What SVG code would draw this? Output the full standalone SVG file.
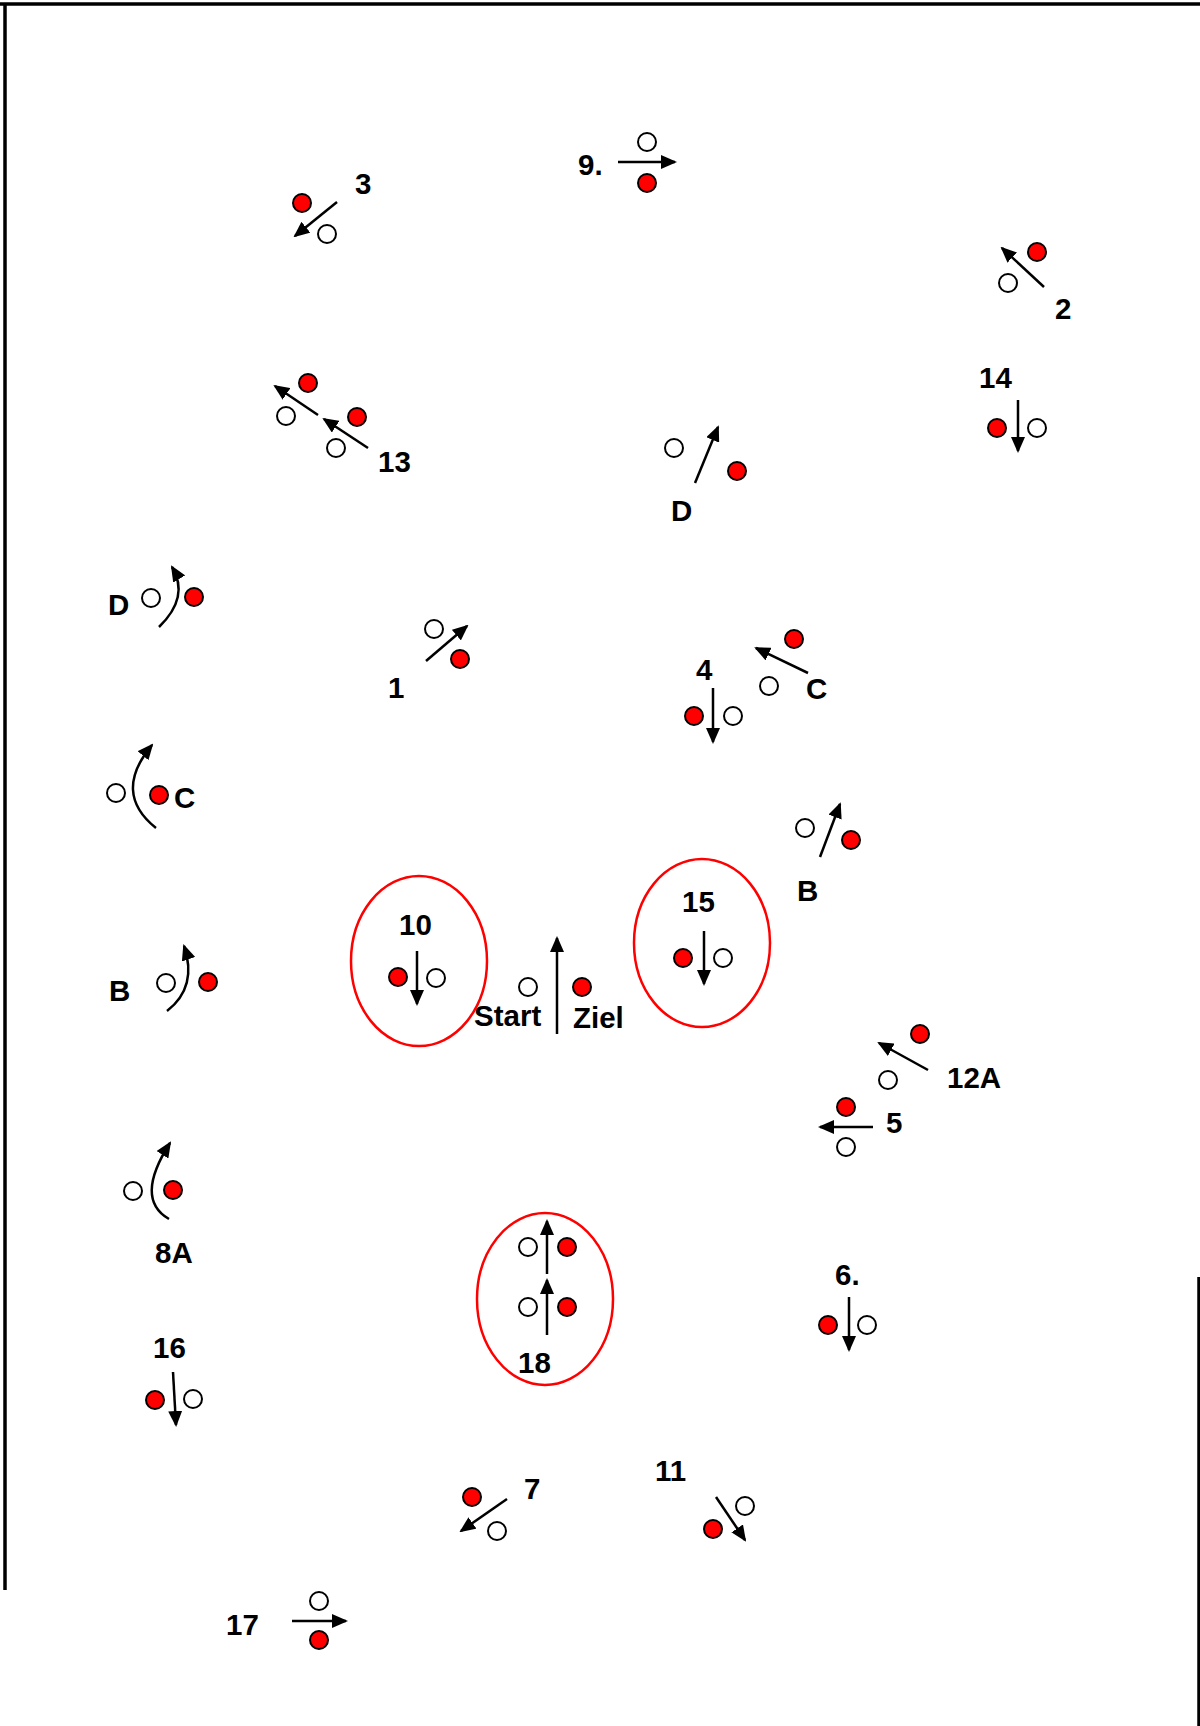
<svg xmlns="http://www.w3.org/2000/svg" width="1200" height="1726" viewBox="0 0 1200 1726">
<defs>
<marker id="ah" markerUnits="userSpaceOnUse" markerWidth="16" markerHeight="14" refX="14" refY="7" orient="auto"><path d="M0,0 L16,7 L0,14 z" fill="#000"/></marker>
<style>
.w{fill:#fff;stroke:#000;stroke-width:2}
.r{fill:#ff0000;stroke:#000;stroke-width:2}
.a{fill:none;stroke:#000;stroke-width:2.5;marker-end:url(#ah)}
.t{font-family:"Liberation Sans",Arial,sans-serif;font-weight:bold;font-size:29.5px;fill:#000}
.e{fill:none;stroke:#ff0000;stroke-width:2.5}
.b{stroke:#000;stroke-width:3.5;fill:none}
</style>
</defs>
<rect width="1200" height="1726" fill="#fff"/>
<g id="frame">
<line class="b" x1="0" y1="4" x2="1200" y2="4"/>
<line class="b" x1="5" y1="3" x2="5" y2="1590"/>
<line class="b" x1="1199" y1="1277" x2="1199" y2="1726"/>
</g>
<g id="connectors">
<line class="a" x1="337" y1="202" x2="295" y2="236"/>
<line class="a" x1="618" y1="162" x2="675" y2="162"/>
<line class="a" x1="1044" y1="287" x2="1002" y2="248"/>
<line class="a" x1="1018" y1="400" x2="1018" y2="451"/>
<line class="a" x1="318" y1="415" x2="275" y2="386"/>
<line class="a" x1="368" y1="448" x2="324" y2="419"/>
<line class="a" x1="695" y1="483" x2="718" y2="427"/>
<path class="a" d="M159,627 Q190,597 172,567"/>
<path class="a" d="M156,828 Q112,793 152,745"/>
<line class="a" x1="426" y1="661" x2="467" y2="626"/>
<line class="a" x1="713" y1="688" x2="713" y2="742"/>
<line class="a" x1="808" y1="673" x2="756" y2="648"/>
<line class="a" x1="820" y1="857" x2="840" y2="804"/>
<line class="a" x1="417" y1="951" x2="417" y2="1004"/>
<line class="a" x1="557" y1="1034" x2="557" y2="938"/>
<line class="a" x1="704" y1="931" x2="704" y2="984"/>
<path class="a" d="M167,1011 Q198,987 184,946"/>
<line class="a" x1="928" y1="1070" x2="879" y2="1043"/>
<line class="a" x1="873" y1="1127" x2="820" y2="1127"/>
<path class="a" d="M169,1219 Q134,1199 170,1143"/>
<line class="a" x1="547" y1="1274" x2="547" y2="1221"/>
<line class="a" x1="547" y1="1335" x2="547" y2="1280"/>
<line class="a" x1="849" y1="1297" x2="849" y2="1350"/>
<line class="a" x1="173" y1="1372" x2="176" y2="1425"/>
<line class="a" x1="507" y1="1499" x2="461" y2="1531"/>
<line class="a" x1="716" y1="1497" x2="745" y2="1540"/>
<line class="a" x1="292" y1="1621" x2="346" y2="1621"/>
</g>
<g id="n3"><circle class="r" cx="302" cy="203" r="9"/><circle class="w" cx="327" cy="234" r="9"/><text class="t" x="355" y="194">3</text></g>
<g id="n9"><circle class="w" cx="647" cy="142" r="9"/><circle class="r" cx="647" cy="183" r="9"/><text class="t" x="578" y="175">9.</text></g>
<g id="n2"><circle class="r" cx="1037" cy="252" r="9"/><circle class="w" cx="1008" cy="283" r="9"/><text class="t" x="1055" y="319">2</text></g>
<g id="n14"><circle class="r" cx="997" cy="428" r="9"/><circle class="w" cx="1037" cy="428" r="9"/><text class="t" x="979" y="388">14</text></g>
<g id="n13"><circle class="r" cx="308" cy="383" r="9"/><circle class="w" cx="286" cy="416" r="9"/><circle class="r" cx="357" cy="417" r="9"/><circle class="w" cx="336" cy="448" r="9"/><text class="t" x="378" y="472">13</text></g>
<g id="nD1"><circle class="w" cx="674" cy="448" r="9"/><circle class="r" cx="737" cy="471" r="9"/><text class="t" x="671" y="521">D</text></g>
<g id="nD2"><circle class="w" cx="151" cy="598" r="9"/><circle class="r" cx="194" cy="597" r="9"/><text class="t" x="108" y="615">D</text></g>
<g id="nC1"><circle class="w" cx="116" cy="793" r="9"/><circle class="r" cx="159" cy="795" r="9"/><text class="t" x="174" y="808">C</text></g>
<g id="n1"><circle class="w" cx="434" cy="629" r="9"/><circle class="r" cx="460" cy="659" r="9"/><text class="t" x="388" y="698">1</text></g>
<g id="n4"><circle class="r" cx="694" cy="716" r="9"/><circle class="w" cx="733" cy="716" r="9"/><text class="t" x="696" y="680">4</text></g>
<g id="nC2"><circle class="r" cx="794" cy="639" r="9"/><circle class="w" cx="769" cy="686" r="9"/><text class="t" x="806" y="699">C</text></g>
<g id="nB1"><circle class="w" cx="805" cy="828" r="9"/><circle class="r" cx="851" cy="840" r="9"/><text class="t" x="797" y="901">B</text></g>
<g id="n10"><ellipse class="e" cx="419" cy="961" rx="68" ry="85"/><circle class="r" cx="398" cy="977" r="9"/><circle class="w" cx="436" cy="978" r="9"/><text class="t" x="399" y="935">10</text></g>
<g id="nStart"><circle class="w" cx="528" cy="987" r="9"/><circle class="r" cx="582" cy="987" r="9"/><text class="t" x="474" y="1026">Start</text><text class="t" x="573" y="1028">Ziel</text></g>
<g id="n15"><ellipse class="e" cx="702" cy="943" rx="68" ry="84"/><circle class="r" cx="683" cy="958" r="9"/><circle class="w" cx="723" cy="958" r="9"/><text class="t" x="682" y="912">15</text></g>
<g id="nB2"><circle class="w" cx="166" cy="983" r="9"/><circle class="r" cx="208" cy="982" r="9"/><text class="t" x="109" y="1001">B</text></g>
<g id="n12A"><circle class="r" cx="920" cy="1034" r="9"/><circle class="w" cx="888" cy="1080" r="9"/><text class="t" x="947" y="1088">12A</text></g>
<g id="n5"><circle class="r" cx="846" cy="1107" r="9"/><circle class="w" cx="846" cy="1147" r="9"/><text class="t" x="886" y="1133">5</text></g>
<g id="n8A"><circle class="w" cx="133" cy="1191" r="9"/><circle class="r" cx="173" cy="1190" r="9"/><text class="t" x="155" y="1263">8A</text></g>
<g id="n18"><ellipse class="e" cx="545" cy="1299" rx="68" ry="86"/><circle class="w" cx="528" cy="1247" r="9"/><circle class="r" cx="567" cy="1247" r="9"/><circle class="w" cx="528" cy="1307" r="9"/><circle class="r" cx="567" cy="1307" r="9"/><text class="t" x="518" y="1373">18</text></g>
<g id="n6"><circle class="r" cx="828" cy="1325" r="9"/><circle class="w" cx="867" cy="1325" r="9"/><text class="t" x="835" y="1285">6.</text></g>
<g id="n16"><circle class="r" cx="155" cy="1400" r="9"/><circle class="w" cx="193" cy="1399" r="9"/><text class="t" x="153" y="1358">16</text></g>
<g id="n7"><circle class="r" cx="472" cy="1497" r="9"/><circle class="w" cx="497" cy="1531" r="9"/><text class="t" x="524" y="1499">7</text></g>
<g id="n11"><circle class="w" cx="745" cy="1506" r="9"/><circle class="r" cx="713" cy="1529" r="9"/><text class="t" x="655" y="1481">11</text></g>
<g id="n17"><circle class="w" cx="319" cy="1601" r="9"/><circle class="r" cx="319" cy="1640" r="9"/><text class="t" x="226" y="1635">17</text></g>
</svg>
